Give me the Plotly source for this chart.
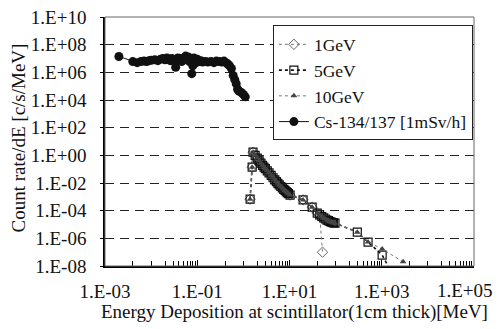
import plotly.graph_objects as go

# ---- data (MeV, counts/s/MeV) ----
cs_energy = [0.002, 0.004, 0.005, 0.006, 0.007, 0.008, 0.009, 0.010, 0.012, 0.014,
             0.016, 0.018, 0.020, 0.022, 0.024, 0.026, 0.028, 0.030, 0.032, 0.034,
             0.036, 0.038, 0.040, 0.043, 0.046, 0.050, 0.053, 0.056, 0.060, 0.064,
             0.068, 0.072, 0.076, 0.080, 0.085, 0.090, 0.095, 0.10, 0.11, 0.12,
             0.13, 0.15, 0.17, 0.20, 0.23, 0.26, 0.30, 0.34, 0.38, 0.42,
             0.46, 0.50, 0.55, 0.60, 0.65, 0.70, 0.75, 0.80, 0.90, 1.00, 1.10]
cs_rate = [1.4e7, 6.0e6, 5.0e6, 6.0e6, 6.5e6, 6.0e6, 7.0e6, 7.5e6, 8.0e6, 7.0e6,
           9.0e6, 1.0e7, 8.0e6, 1.1e7, 9.0e6, 7.0e6, 1.0e7, 8.0e6, 6.0e6, 2.3e6,
           9.0e6, 1.1e7, 7.0e6, 1.0e7, 6.0e6, 8.0e6, 1.2e7, 1.5e7, 9.0e6, 1.3e7,
           6.0e6, 1.0e7, 8.0e5, 3.0e6, 1.1e7, 8.0e6, 5.0e6, 9.0e6, 6.0e6, 7.0e6,
           5.5e6, 6.0e6, 5.5e6, 6.0e6, 5.0e6, 6.5e6, 6.0e6, 5.5e6, 6.5e6, 5.0e6,
           4.0e6, 3.0e6, 1.9e6, 6.0e5, 3.0e5, 1.5e5, 6.0e4, 4.5e4, 3.5e4, 2.5e4, 1.7e4]

e5_energy = [1.40, 1.55, 1.62, 1.8, 2.0, 2.2, 2.4, 2.6, 2.8, 3.0, 3.3, 3.6, 4.0, 4.4,
             4.8, 5.2, 5.6, 6.0, 6.5, 7.0, 7.5, 8.0, 8.5, 9.0, 9.5, 10.3, 19.7, 31,
             40, 45, 50, 55, 60, 65, 70, 75, 80, 85, 90, 97, 295, 505, 1020, 2000]
e5_rate = [6.8e-4, 1.4e-1, 1.7, 1.0, 6.3e-1, 4.0e-1, 2.7e-1, 1.9e-1, 1.4e-1, 1.1e-1,
           7.6e-2, 5.4e-2, 3.5e-2, 2.4e-2, 1.7e-2, 1.26e-2, 9.5e-3, 7.4e-3, 5.6e-3,
           4.5e-3, 3.5e-3, 2.9e-3, 2.4e-3, 2.0e-3, 1.7e-3, 1.35e-3, 6.0e-4, 1.8e-4,
           6.6e-5, 5.0e-5, 3.8e-5, 3.0e-5, 2.5e-5, 2.1e-5, 1.9e-5, 1.65e-5, 1.5e-5,
           1.4e-5, 1.3e-5, 1.25e-5, 2.8e-6, 5.4e-7, 6.2e-8, 1.0e-9]

e1_energy = [1.40, 1.55, 1.62, 1.8, 2.0, 2.2, 2.4, 2.6, 2.8, 3.0, 3.3, 3.6, 4.0, 4.4,
             4.8, 5.2, 5.6, 6.0, 6.5, 7.0, 7.5, 8.0, 8.5, 9.0, 9.5, 10.3, 19.7, 31,
             40, 45, 52]
e1_rate = [6.8e-4, 1.4e-1, 1.7, 1.0, 6.3e-1, 4.0e-1, 2.7e-1, 1.9e-1, 1.4e-1, 1.1e-1,
           7.6e-2, 5.4e-2, 3.5e-2, 2.4e-2, 1.7e-2, 1.26e-2, 9.5e-3, 7.4e-3, 5.6e-3,
           4.5e-3, 3.5e-3, 2.9e-3, 2.4e-3, 2.0e-3, 1.7e-3, 1.35e-3, 6.0e-4, 1.8e-4,
           6.6e-5, 5.0e-5, 1.0e-7]

e10_energy = [1.40, 1.55, 1.62, 1.8, 2.0, 2.2, 2.4, 2.6, 2.8, 3.0, 3.3, 3.6, 4.0, 4.4,
              4.8, 5.2, 5.6, 6.0, 6.5, 7.0, 7.5, 8.0, 8.5, 9.0, 9.5, 10.3, 19.7, 31,
              40, 45, 50, 55, 60, 65, 70, 75, 80, 85, 90, 97, 295, 505, 1020, 2900]
e10_rate = [6.8e-4, 1.4e-1, 1.7, 1.0, 6.3e-1, 4.0e-1, 2.7e-1, 1.9e-1, 1.4e-1, 1.1e-1,
            7.6e-2, 5.4e-2, 3.5e-2, 2.4e-2, 1.7e-2, 1.26e-2, 9.5e-3, 7.4e-3, 5.6e-3,
            4.5e-3, 3.5e-3, 2.9e-3, 2.4e-3, 2.0e-3, 1.7e-3, 1.35e-3, 6.0e-4, 1.8e-4,
            6.6e-5, 5.0e-5, 3.8e-5, 3.0e-5, 2.5e-5, 2.1e-5, 1.9e-5, 1.65e-5, 1.5e-5,
            1.4e-5, 1.3e-5, 1.25e-5, 2.8e-6, 5.4e-7, 1.7e-7, 2.0e-8]

y_exponents = [10, 8, 6, 4, 2, 0, -2, -4, -6, -8]
x_exponents = [-3, -1, 1, 3, 5]


def sci_label(e):
    return "1.E%s%02d" % ("+" if e >= 0 else "-", abs(e))


FONT = "Liberation Serif"
FS = 19
LFS = 17.5
TXT = "#111111"

fig = go.Figure()
fig.add_trace(go.Scatter(
    x=e1_energy, y=e1_rate, name="1GeV", mode="lines+markers",
    line=dict(color="#777777", width=1, dash="dot"),
    marker=dict(symbol="diamond-open", size=8, color="#666666", line=dict(width=1))))
fig.add_trace(go.Scatter(
    x=e5_energy, y=e5_rate, name="5GeV", mode="lines+markers",
    line=dict(color="#111111", width=1.6, dash="dot"),
    marker=dict(symbol="square-open", size=8, color="#111111", line=dict(width=1.2))))
fig.add_trace(go.Scatter(
    x=e10_energy, y=e10_rate, name="10GeV", mode="lines+markers",
    line=dict(color="#777777", width=1, dash="dot"),
    marker=dict(symbol="triangle-up", size=6, color="#444444")))
fig.add_trace(go.Scatter(
    x=cs_energy, y=cs_rate, name="Cs-134/137 [1mSv/h]", mode="lines+markers",
    line=dict(color="#111111", width=1),
    marker=dict(symbol="circle", size=9, color="#111111")))

minor_x = []
for n in range(-3, 5):
    if n % 2 == 0:
        minor_x += [k * 10.0 ** n for k in range(1, 10)]
    else:
        minor_x += [4 * 10.0 ** n]

# the last x label is drawn as an annotation so it can sit inside the page
x_ticktext = [sci_label(e) if e != x_exponents[-1] else "" for e in x_exponents]

fig.update_xaxes(
    type="log", range=[-3, 5], automargin=False,
    tickmode="array", tickvals=[10.0 ** e for e in x_exponents],
    ticktext=x_ticktext, ticklabeloverflow="allow",
    ticks="inside", ticklen=6, tickcolor="black", tickwidth=1,
    ticklabelstandoff=7,
    minor=dict(ticks="inside", ticklen=5, tickcolor="black", tickwidth=1,
               tickmode="array", tickvals=minor_x, showgrid=False),
    showgrid=False, showline=True, linecolor="black", linewidth=1.6,
    zeroline=False,
    tickfont=dict(family=FONT, size=FS, color=TXT),
)
fig.update_yaxes(
    type="log", range=[-8, 10], automargin=False,
    tickmode="array", tickvals=[10.0 ** e for e in y_exponents],
    ticktext=[sci_label(e) for e in y_exponents], ticklabeloverflow="allow",
    ticks="outside", ticklen=3, tickcolor="black",
    ticklabelstandoff=10,
    showgrid=True, gridcolor="#222222", gridwidth=1, griddash="9px,6px",
    showline=True, linecolor="black", linewidth=1.6, zeroline=False,
    tickfont=dict(family=FONT, size=FS, color=TXT),
)

fig.add_annotation(x=x_exponents[-1], y=0, xref="x", yref="paper",
                   text=sci_label(x_exponents[-1]), showarrow=False,
                   yanchor="middle", xanchor="center", xshift=-9, yshift=-24,
                   font=dict(family=FONT, size=FS, color=TXT))
# axis titles
fig.add_annotation(x=0.5, y=0, xref="paper", yref="paper",
                   text="Energy Deposition at scintillator(1cm thick)[MeV]",
                   showarrow=False, xanchor="center", yanchor="middle",
                   xshift=5, yshift=-46,
                   font=dict(family=FONT, size=FS, color=TXT))
fig.add_annotation(x=0, y=0.5, xref="paper", yref="paper",
                   text="Count rate/dE [c/s/MeV]", textangle=-90,
                   showarrow=False, xanchor="center", yanchor="middle",
                   xshift=-87, yshift=3,
                   font=dict(family=FONT, size=FS, color=TXT))

fig.add_shape(type="rect", xref="paper", yref="paper", x0=0, x1=1, y0=0, y1=1,
              line=dict(color="#666666", width=1), fillcolor="rgba(0,0,0,0)")

# page body has an 8px margin, so the figure is sized to fill the rest
fig.update_layout(
    width=495, height=321,
    margin=dict(l=97, r=29, t=8.5, b=63, autoexpand=False),
    paper_bgcolor="white", plot_bgcolor="white",
    showlegend=True,
    legend=dict(x=0.455, y=0.966, xanchor="left", yanchor="top",
                bgcolor="white", bordercolor="#222222", borderwidth=1,
                font=dict(family=FONT, size=LFS, color=TXT),
                itemwidth=30, tracegroupgap=0),
    font=dict(family=FONT, size=FS, color=TXT),
)

fig.write_html("out.html")
